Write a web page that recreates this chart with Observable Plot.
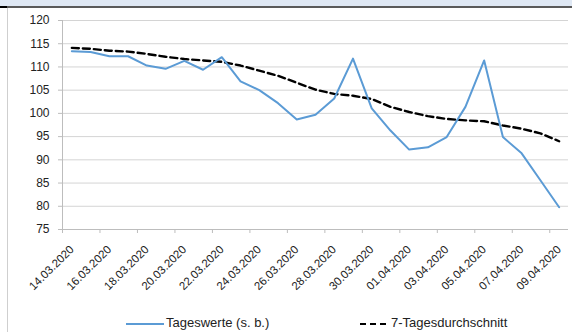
<!DOCTYPE html>
<html>
<head>
<meta charset="utf-8">
<script src="https://cdn.jsdelivr.net/npm/d3@7"></script>
<script src="https://cdn.jsdelivr.net/npm/@observablehq/plot@0.6"></script>
<style>
  html, body { margin: 0; padding: 0; background: #fff; }
  #wrap { position: relative; width: 572px; height: 332px; overflow: hidden; background: #fff; font-family: "Liberation Sans", Arial, sans-serif; }
  #chart { position: absolute; left: 0; top: 0; }
  .band { position: absolute; left: 0; top: 0; width: 572px; height: 6px; background: #dfe8f4; }
  .bandline { position: absolute; left: 0; top: 6px; width: 572px; height: 2px; background: #5a5a5a; }
  .bandblack { position: absolute; left: 0; top: 6px; width: 7px; height: 2px; background: #000; }
  .leftline { position: absolute; left: 7px; top: 8px; width: 1px; height: 324px; background: #cfcfcf; }
  .legend { position: absolute; top: 315px; font-size: 13px; color: #222; white-space: nowrap; line-height: 16px; }
</style>
</head>
<body>
<div id="wrap">
  <div id="chart"></div>
  <div class="band"></div>
  <div class="bandline"></div>
  <div class="bandblack"></div>
  <div class="leftline"></div>
  <div class="legend" id="leg1" style="left:126px"></div>
  <div class="legend" id="leg2" style="left:360px"></div>
</div>
<script>
// Dates (categories)
const dates = [
  "14.03.2020","15.03.2020","16.03.2020","17.03.2020","18.03.2020","19.03.2020","20.03.2020",
  "21.03.2020","22.03.2020","23.03.2020","24.03.2020","25.03.2020","26.03.2020","27.03.2020",
  "28.03.2020","29.03.2020","30.03.2020","31.03.2020","01.04.2020","02.04.2020","03.04.2020",
  "04.04.2020","05.04.2020","06.04.2020","07.04.2020","08.04.2020","09.04.2020"
];
// Daily values (Tageswerte, s. b.)
const tageswerte = [
  113.4, 113.2, 112.3, 112.3, 110.3, 109.6, 111.3, 109.4, 112.1, 106.9,
  105.0, 102.2, 98.7, 99.7, 103.2, 111.8, 101.1, 96.3, 92.2, 92.7,
  94.9, 101.4, 111.4, 94.9, 91.4, 85.6, 79.8
];
// 7-day average (7-Tagesdurchschnitt)
const durchschnitt = [
  114.1, 113.9, 113.5, 113.3, 112.8, 112.2, 111.7, 111.4, 111.1, 110.3,
  109.2, 108.1, 106.6, 105.1, 104.2, 103.8, 103.1, 101.4, 100.3, 99.4,
  98.8, 98.5, 98.3, 97.4, 96.7, 95.7, 94.0
];
const yTicks = [75, 80, 85, 90, 95, 100, 105, 110, 115, 120];
const seriesNames = ["Tageswerte (s. b.)", "7-Tagesdurchschnitt"];
const seriesColors = ["#5b9bd5", "#000000"];

const dailyData = tageswerte.map((v, i) => ({i, v}));
const avgData = durchschnitt.map((v, i) => ({i, v}));
const labelIdx = dates.map((d, i) => i).filter(i => i % 2 === 0);
const boundaries = labelIdx.map(i => i - 0.5);

const chart = Plot.plot({
  width: 572,
  height: 310,
  marginTop: 20,
  marginBottom: 81,
  marginLeft: 62,
  marginRight: 4,
  x: {domain: [-0.5, dates.length - 0.5]},
  y: {domain: [75, 120]},
  style: {fontFamily: "'Liberation Sans', Arial, sans-serif", background: "transparent", color: "#222"},
  marks: [
    Plot.gridY(yTicks, {stroke: "#d4d4d4", strokeOpacity: 1}),
    Plot.ruleX([-0.5], {stroke: "#bdbdbd"}),
    Plot.ruleY([75], {stroke: "#bdbdbd"}),
    Plot.axisY(yTicks, {tickSize: 4, tickPadding: 9, stroke: "#bdbdbd", fontSize: 12, label: null}),
    Plot.axisX(boundaries, {tickSize: 4, tickFormat: () => "", stroke: "#bdbdbd", label: null}),
    Plot.axisX(labelIdx, {tickSize: 0, tickPadding: 18, tickRotate: -45, tickFormat: i => dates[i], fontSize: 11.5, label: null}),
    Plot.lineY(avgData, {x: "i", y: "v", stroke: seriesColors[1], strokeWidth: 2.4, strokeDasharray: "7,4"}),
    Plot.lineY(dailyData, {x: "i", y: "v", stroke: seriesColors[0], strokeWidth: 2})
  ]
});
document.getElementById("chart").appendChild(chart);

function legendItem(el, name, color, dashed) {
  const w = dashed ? 29 : 38;
  el.innerHTML = `<svg width="${w + 2}" height="8" style="vertical-align:middle"><line x1="0" x2="${w}" y1="4" y2="4" stroke="${color}" stroke-width="2" ${dashed ? 'stroke-dasharray="6,4"' : ''}/></svg>${name}`;
}
legendItem(document.getElementById("leg1"), seriesNames[0], seriesColors[0], false);
legendItem(document.getElementById("leg2"), seriesNames[1], seriesColors[1], true);
</script>
</body>
</html>
